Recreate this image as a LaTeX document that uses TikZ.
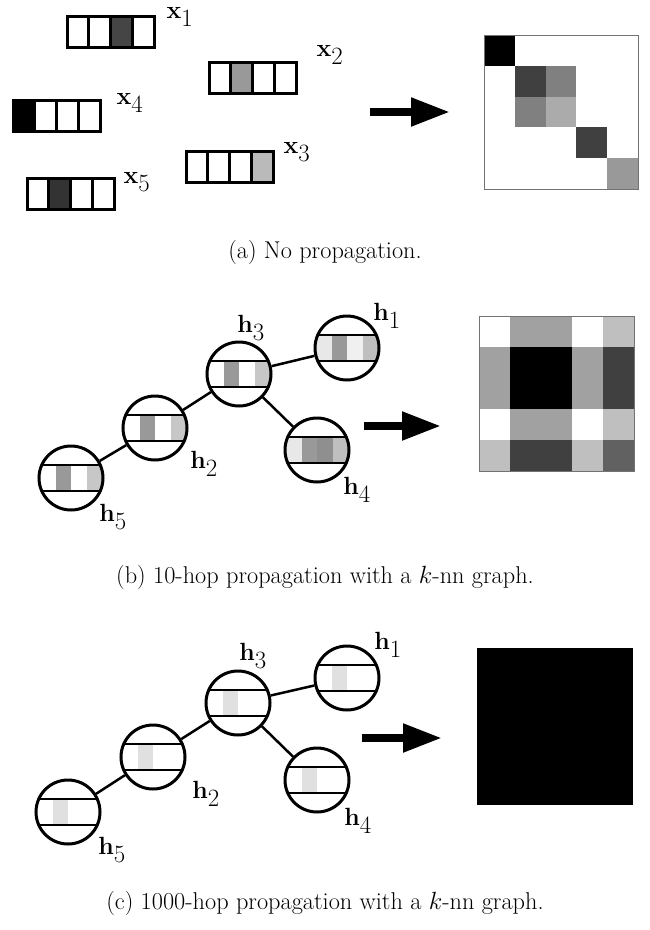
\documentclass[tikz,border=0pt]{standalone}
\usepackage{amsmath}
\usepackage{amssymb}
\usepackage{bm}
\usetikzlibrary{arrows.meta}
\DeclareMathSizes{30}{30}{23}{18}

% one feature vector of panel (a): left, top, cell fills
\newcommand{\xvec}[3]{%
  \foreach \c [count=\i] in {#3}
    \draw[line width=3pt, fill=\c] ({#1+(\i-1)*21.75},#2) rectangle ++(21.75,31);
}
% one graph node: name, x, y, cell fills
\newcommand{\hvec}[4]{%
  \begin{scope}
    \clip (#2,#3) circle (32pt);
    \foreach \c [count=\i] in {#4}
      \fill[\c] ({#2-31+(\i-1)*15.5},#3-13) rectangle ++(15.5,26);
    \draw[line width=2pt] (#2-34,#3-13) -- ++(68,0) (#2-34,#3+13) -- ++(68,0);
  \end{scope}
  \node[hnode] (#1) at (#2,#3) {};
}

\begin{document}
\begin{tikzpicture}[x=1pt,y=-1pt, every node/.style={font=\fontsize{30}{32}\selectfont,inner sep=1pt},
  hnode/.style={circle,draw,line width=3pt,minimum size=64pt,inner sep=0pt},
  edge/.style={line width=2.5pt},
  bigarrow/.style={line width=8pt,-{Triangle[length=39pt,width=27pt]}},
  caption/.style={font=\fontsize{24.3}{28}\selectfont}]
\useasboundingbox (0,0) rectangle (650,930);

% (a) no propagation
\xvec{67}{16}{white,white,black!73,white}
\xvec{209}{62}{white,black!40,white,white}
\xvec{13}{100}{black,white,white,white}
\xvec{186}{151}{white,white,white,black!27}
\xvec{27}{178}{white,black!80,white,white}
\node (x1) at (180,17) {$\mathbf{x}_1$};
\node (x2) at (330,55) {$\mathbf{x}_2$};
\node (x4) at (130,103) {$\mathbf{x}_4$};
\node (x3) at (297,152) {$\mathbf{x}_3$};
\node (x5) at (137,182) {$\mathbf{x}_5$};
\coordinate (a0) at (370,112);
\coordinate (a1) at (450,112);
\draw[bigarrow] (a0) -- (a1);
\foreach \r/\c/\g in {1/1/black,2/2/black!75,2/3/black!50,3/2/black!50,3/3/black!33,4/4/black!75,5/5/black!40}
  \fill[\g] ({484+(\c-1)*30.8},{35+(\r-1)*30.8}) rectangle ++(30.8,30.8);
\draw[black!55,line width=1pt] (484,35) rectangle ++(154,154);
\node[caption] (capa) at (325,252) {(a) No propagation.};

% (b) 10 hops
\hvec{b5}{71}{478}{white,black!40,white,black!22}
\hvec{b2}{155}{428}{white,black!40,white,black!22}
\hvec{b3}{239}{374}{white,black!40,white,black!22}
\hvec{b1}{347}{348}{black!9,black!40,black!6,black!25}
\hvec{b4}{317}{450}{black!9,black!40,black!44,black!25}
\draw[edge] (b5) -- (b2);
\draw[edge] (b2) -- (b3);
\draw[edge] (b3) -- (b1);
\draw[edge] (b3) -- (b4);
\node (lb3) at (251,328) {$\mathbf{h}_3$};
\node (lb2) at (204,464) {$\mathbf{h}_2$};
\node (lb5) at (113,517) {$\mathbf{h}_5$};
\node (lb1) at (387,316) {$\mathbf{h}_1$};
\node (lb4) at (357,490) {$\mathbf{h}_4$};
\coordinate (b0) at (364,426);
\coordinate (bt) at (441,426);
\draw[bigarrow] (b0) -- (bt);
\foreach \row [count=\r] in {{white,black!37,black!37,white,black!25},
    {black!37,black,black,black!37,black!75},{black!37,black,black,black!37,black!75},
    {white,black!37,black!37,white,black!25},{black!25,black!75,black!75,black!25,black!62}}
  \foreach \g [count=\c] in \row
    \fill[\g] ({479+(\c-1)*31},{316+(\r-1)*31}) rectangle ++(31,31);
\draw[black!55,line width=1pt] (479,316) rectangle ++(155,155);
\node[caption] (capb) at (325,577) {(b) 10-hop propagation with a $k$-nn graph.};

% (c) 1000 hops
\hvec{c5}{68}{812}{white,black!12,white,white}
\hvec{c2}{153}{757}{white,black!12,white,white}
\hvec{c3}{238}{703}{white,black!12,white,white}
\hvec{c1}{347}{678}{white,black!12,white,white}
\hvec{c4}{317}{780}{white,black!12,white,white}
\draw[edge] (c5) -- (c2);
\draw[edge] (c2) -- (c3);
\draw[edge] (c3) -- (c1);
\draw[edge] (c3) -- (c4);
\node (lc3) at (253,656) {$\mathbf{h}_3$};
\node (lc2) at (206,794) {$\mathbf{h}_2$};
\node (lc5) at (112,850) {$\mathbf{h}_5$};
\node (lc1) at (388,645) {$\mathbf{h}_1$};
\node (lc4) at (358,821) {$\mathbf{h}_4$};
\coordinate (c0) at (362,738);
\coordinate (ct) at (442,738);
\draw[bigarrow] (c0) -- (ct);
\fill[black] (477,648) rectangle (633,805);
\node[caption] (capc) at (325,903) {(c) 1000-hop propagation with a $k$-nn graph.};
\end{tikzpicture}
\end{document}
